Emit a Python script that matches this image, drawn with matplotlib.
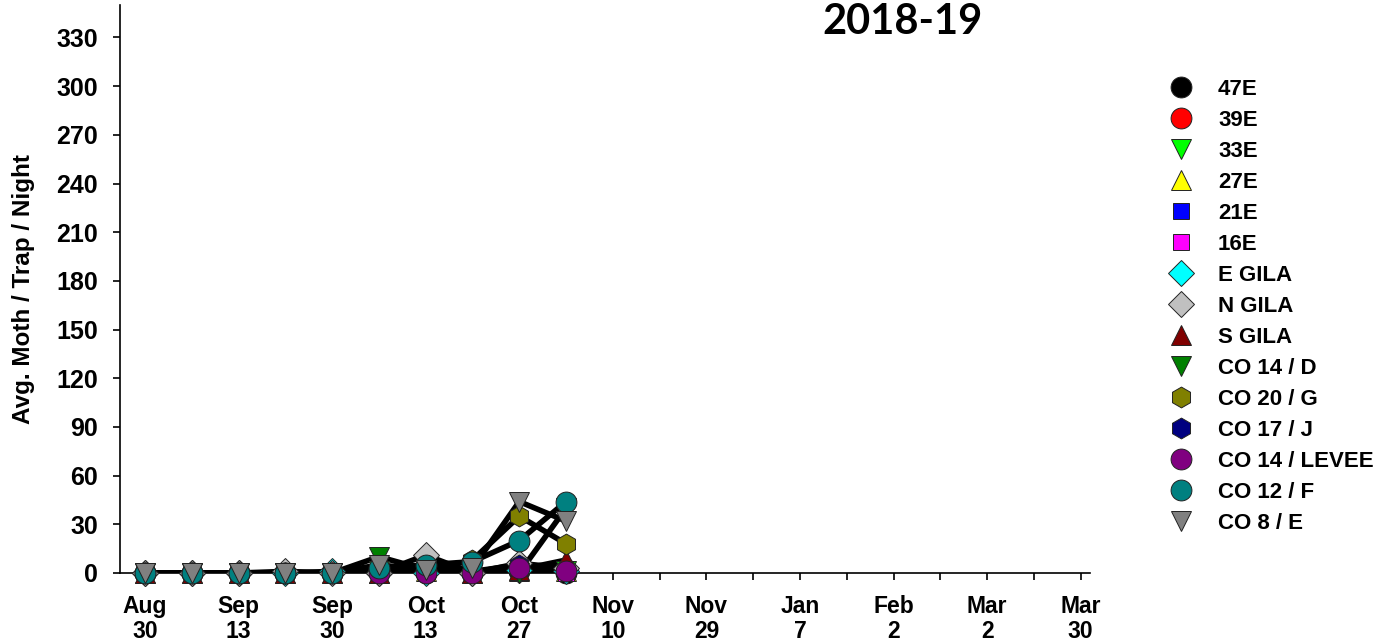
import matplotlib
matplotlib.use("Agg")
import matplotlib.pyplot as plt
from matplotlib.lines import Line2D

plt.rcParams['font.family'] = ['Liberation Sans', 'DejaVu Sans']
plt.rcParams['font.weight'] = 'bold'

# trap sites and their weekly averages (10 sampling dates, Aug 30 .. Nov 3)
sites = ['47E', '39E', '33E', '27E', '21E', '16E', 'E GILA', 'N GILA', 'S GILA',
         'CO 14 / D', 'CO 20 / G', 'CO 17 / J', 'CO 14 / LEVEE', 'CO 12 / F', 'CO 8 / E']
v_47e = [0, 0, 0, 0, 0, 1, 0, 0, 1, 0]
v_39e = [0, 0, 0, 0, 0, 1, 1, 0, 2, 1]
v_33e = [0, 0, 0, 0, 0, 1, 0, 0, 0, 1]
v_27e = [0, 0, 0, 0, 0, 0, 1, 0, 1, 1]
v_21e = [0, 0, 0, 0, 0, 0, 0, 0, 1, 0]
v_16e = [0, 0, 0, 0, 0, 0, 0, 0, 0, 0]
v_egila = [0, 0, 0, 0, 1, 0, 0, 0, 2, 1]
v_ngila = [0, 0, 0, 1, 0, 0, 11, 0, 6, 3]
v_sgila = [0, 0, 0, 0, 0, 0, 5, 0, 2, 8]
v_co14d = [0, 0, 0, 0, 0, 10, 2, 0, 0, 40]
v_co20g = [0, 0, 0, 0, 0, 2, 1, 8, 35, 18]
v_co17j = [0, 0, 0, 0, 0, 0, 0, 1, 5, 1]
v_co14l = [0, 0, 0, 0, 0, 0, 0, 0, 3, 1]
v_co12f = [0, 0, 0, 0, 0, 3, 5, 7, 20, 44]
v_co8e = [0, 0, 0, 0, 0, 5, 2, 3, 44, 32]
values = [v_47e, v_39e, v_33e, v_27e, v_21e, v_16e, v_egila, v_ngila, v_sgila,
          v_co14d, v_co20g, v_co17j, v_co14l, v_co12f, v_co8e]

tick_labels = ['Aug\n30', 'Sep\n13', 'Sep\n30', 'Oct\n13', 'Oct\n27', 'Nov\n10',
               'Nov\n29', 'Jan\n7', 'Feb\n2', 'Mar\n2', 'Mar\n30']
y_ticks = list(range(0, 331, 30))

markers = ['o', 'o', 'v', '^', 's', 's', 'D', 'D', '^', 'v', 'h', 'h', 'o', 'o', 'v']
colors = ['#000000', '#ff0000', '#00ff00', '#ffff00', '#0000ff', '#ff00ff', '#00ffff',
          '#c0c0c0', '#800000', '#008000', '#808000', '#000080', '#800080', '#008080',
          '#808080']
msizes = [15, 15, 15, 15, 12, 12, 13, 13, 15, 15, 15, 15, 15, 15, 15]

fig = plt.figure(figsize=(13.88, 6.44), dpi=100)
ax = fig.add_axes([120 / 1388, 1 - 573 / 644, 970 / 1388, 568 / 644])

x = list(range(len(v_47e)))
for vals in values:
    ax.plot(x, vals, color='black', lw=4, zorder=2, solid_capstyle='round')
for vals, m, c, ms in zip(values, markers, colors, msizes):
    ax.plot(x, vals, linestyle='none', marker=m, markersize=ms, markerfacecolor=c,
            markeredgecolor='#222222', markeredgewidth=0.7, zorder=3, clip_on=False)

ax.set_xlim(-0.535, 20.2)
ax.set_ylim(0, 350)
ax.set_xticks(range(0, 21, 2))
ax.set_xticklabels(tick_labels, fontsize=16.5, fontweight='bold', linespacing=1.08)
ax.set_xticks(range(0, 21), minor=True)
ax.set_yticks(y_ticks)
ax.set_yticklabels([str(t) for t in y_ticks], fontsize=18, fontweight='bold')
ax.tick_params(axis='x', which='both', direction='out', length=5, width=1.2, pad=11)
ax.tick_params(axis='y', direction='out', length=5, width=1.2, pad=11)
for s in ['top', 'right']:
    ax.spines[s].set_visible(False)
for s in ['left', 'bottom']:
    ax.spines[s].set_linewidth(1.2)

ax.set_ylabel('Avg. Moth / Trap / Night', fontsize=17.5, fontweight='bold', labelpad=15)

fig.text(903 / 1388, 1 - 22 / 644, '2018-19', fontsize=30, fontweight='bold',
         family=['Lato', 'DejaVu Sans'], ha='center', va='center')

handles = [Line2D([], [], linestyle='none', marker=m, markersize=ms, markerfacecolor=c,
                  markeredgecolor='#222222', markeredgewidth=0.7)
           for m, c, ms in zip(markers, colors, msizes)]
fig.legend(handles, sites, loc='upper left', bbox_to_anchor=(1158 / 1388, 1 - 70 / 644),
           frameon=False, prop={'size': 16, 'weight': 'bold'}, handlelength=1.3,
           handletextpad=1.0, labelspacing=0.45, borderaxespad=0)

fig.savefig('out.png', dpi=100)
